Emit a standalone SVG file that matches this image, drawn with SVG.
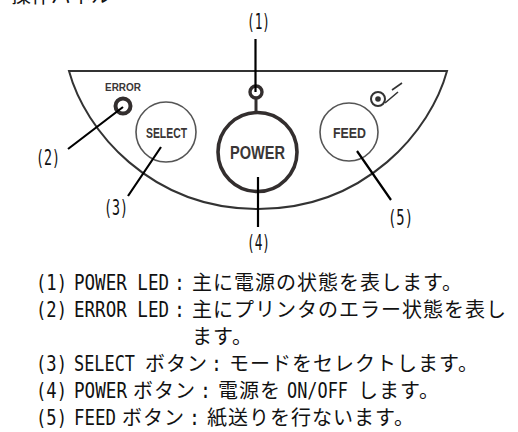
<svg xmlns="http://www.w3.org/2000/svg" width="518" height="432" viewBox="0 0 518 432">
<style>
text{fill:#111}
.j{font-family:"Noto Sans CJK JP",sans-serif;font-size:20px;letter-spacing:1px}
.l{font-family:"DejaVu Sans Mono","Liberation Mono",monospace;font-size:21px}
.b{font-family:"Liberation Sans",sans-serif;font-weight:700;fill:#3a3636}
.lead{stroke:#000;stroke-width:2.2;fill:none}
.thin{fill:#fff;stroke:#555;stroke-width:1.6}
.thick{fill:#fff;stroke:#332e2e;stroke-width:3.6}
</style>
<rect width="518" height="432" fill="#fff"/>
<text class="j" x="11" y="3" style="letter-spacing:0">操作パネル</text>
<g id="panel"><path d="M69 71H447C431 130 366 209 258 209C150 209 85 130 69 71Z" fill="#fff" stroke="#333" stroke-width="2"/></g>
<g id="power-led"><circle cx="256" cy="92" r="6" fill="#fff" stroke="#332e2e" stroke-width="3.4"/><path d="M256 98V112" stroke="#332e2e" stroke-width="3"/></g>
<g id="error-led"><circle cx="123" cy="106" r="7.5" fill="#fff" stroke="#332e2e" stroke-width="4"/><text class="b" x="105" y="91" font-size="10" textLength="36" lengthAdjust="spacingAndGlyphs">ERROR</text></g>
<g id="select"><circle class="thin" cx="166" cy="132" r="30"/><text class="b" x="146" y="138" font-size="15.5" textLength="41" lengthAdjust="spacingAndGlyphs">SELECT</text></g>
<g id="power"><circle class="thick" cx="257.5" cy="152" r="39.5"/><text class="b" x="230" y="159" font-size="19" textLength="55" lengthAdjust="spacingAndGlyphs">POWER</text></g>
<g id="feed"><circle class="thin" cx="349" cy="132" r="29"/><text class="b" x="333" y="138" font-size="15.5" textLength="33" lengthAdjust="spacingAndGlyphs">FEED</text></g>
<g id="feed-icon" fill="none" stroke="#333"><circle cx="378" cy="99" r="7" stroke-width="2"/><circle cx="378" cy="99" r="2.8" fill="#333" stroke="none"/><path d="M385 103L398 92M392 90L402 83" stroke-width="1.6"/></g>
<g id="connectors">
<path class="lead" d="M255.5 39V92M123 107L68 149M161 147L128 196M258 177V227M357 151L391 200"/>
</g>
<g id="callouts">
<text class="l" x="247" y="29" textLength="23" lengthAdjust="spacingAndGlyphs">(1)</text>
<text class="l" x="36" y="165" textLength="24" lengthAdjust="spacingAndGlyphs">(2)</text>
<text class="l" x="104" y="215" textLength="24" lengthAdjust="spacingAndGlyphs">(3)</text>
<text class="l" x="247" y="250" textLength="23" lengthAdjust="spacingAndGlyphs">(4)</text>
<text class="l" x="388" y="225" textLength="25" lengthAdjust="spacingAndGlyphs">(5)</text>
</g>
<g id="notes">
<text class="l" x="36" y="290" textLength="31" lengthAdjust="spacingAndGlyphs">(1)</text>
<text class="l" x="74" y="290" textLength="95" lengthAdjust="spacingAndGlyphs">POWER LED</text>
<text class="l" x="174" y="290" textLength="11" lengthAdjust="spacingAndGlyphs">:</text>
<text class="j" x="192" y="290">主に電源の状態を表します。</text>
<text class="l" x="36" y="317" textLength="31" lengthAdjust="spacingAndGlyphs">(2)</text>
<text class="l" x="74" y="317" textLength="95" lengthAdjust="spacingAndGlyphs">ERROR LED</text>
<text class="l" x="174" y="317" textLength="11" lengthAdjust="spacingAndGlyphs">:</text>
<text class="j" x="192" y="317">主にプリンタのエラー状態を表し</text>
<text class="j" x="192" y="344">ます。</text>
<text class="l" x="36" y="371" textLength="31" lengthAdjust="spacingAndGlyphs">(3)</text>
<text class="l" x="74" y="371" textLength="61" lengthAdjust="spacingAndGlyphs">SELECT</text>
<text class="j" x="145" y="371">ボタン</text>
<text class="l" x="211" y="371" textLength="11" lengthAdjust="spacingAndGlyphs">:</text>
<text class="j" x="229" y="371">モードをセレクトします。</text>
<text class="l" x="36" y="398" textLength="31" lengthAdjust="spacingAndGlyphs">(4)</text>
<text class="l" x="74" y="398" textLength="53" lengthAdjust="spacingAndGlyphs">POWER</text>
<text class="j" x="133" y="398">ボタン</text>
<text class="l" x="200" y="398" textLength="11" lengthAdjust="spacingAndGlyphs">:</text>
<text class="j" x="218" y="398">電源を</text>
<text class="l" x="287" y="398" textLength="61" lengthAdjust="spacingAndGlyphs">ON/OFF</text>
<text class="j" x="358" y="398">します。</text>
<text class="l" x="36" y="425" textLength="31" lengthAdjust="spacingAndGlyphs">(5)</text>
<text class="l" x="74" y="425" textLength="42" lengthAdjust="spacingAndGlyphs">FEED</text>
<text class="j" x="122" y="425">ボタン</text>
<text class="l" x="189" y="425" textLength="11" lengthAdjust="spacingAndGlyphs">:</text>
<text class="j" x="207" y="425">紙送りを行ないます。</text>
</g>
</svg>
